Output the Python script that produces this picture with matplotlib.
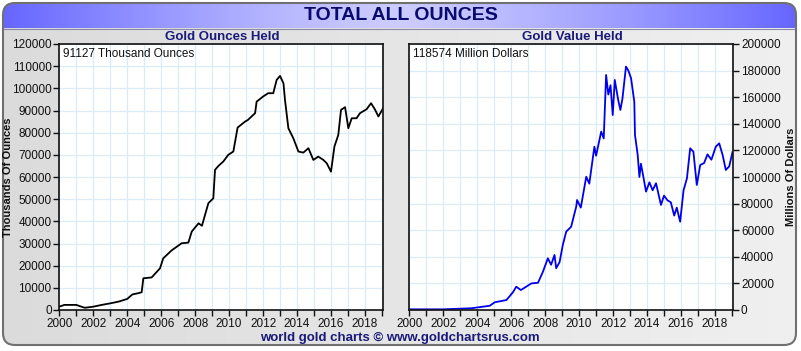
import numpy as np
import matplotlib
matplotlib.use("Agg")
import matplotlib.pyplot as plt
from matplotlib.patches import FancyBboxPatch, Rectangle
from matplotlib.ticker import MultipleLocator

plt.rcParams['font.family'] = ['Liberation Sans', 'DejaVu Sans']

# ---- data ----
oz_years = [2000.0, 2000.3, 2001.0, 2001.3, 2001.5, 2002.0, 2002.5, 2003.0, 2003.5,
            2004.0, 2004.3, 2004.6, 2004.85, 2004.95, 2005.44, 2005.93, 2006.12, 2006.6,
            2007.2, 2007.6, 2007.8, 2008.2, 2008.4, 2008.78, 2009.07, 2009.17, 2009.37,
            2009.66, 2009.95, 2010.25, 2010.5, 2010.94, 2011.1, 2011.53, 2011.62, 2012.0,
            2012.3, 2012.6, 2012.8, 2013.0, 2013.2, 2013.29, 2013.49, 2013.78, 2014.08,
            2014.37, 2014.67, 2014.96, 2015.25, 2015.55, 2015.75, 2016.0, 2016.2, 2016.43,
            2016.59, 2016.83, 2017.02, 2017.22, 2017.5, 2017.71, 2018.1, 2018.36, 2018.6,
            2018.79, 2019.08]
oz_values = [1500, 2300, 2300, 1500, 1000, 1500, 2300, 3000, 3800,
             5000, 7000, 7500, 8000, 14300, 14700, 18800, 23300, 26800,
             30100, 30400, 35400, 39100, 38000, 48200, 50400, 63200, 65000,
             67000, 70000, 71500, 82300, 85000, 85700, 88800, 94000, 96300,
             97800, 97800, 103800, 105600, 102300, 94800, 82000, 77500, 71500,
             71000, 73000, 67700, 69200, 67700, 66200, 62400, 73700, 79000,
             90300, 91500, 82000, 86500, 86500, 88800, 90600, 93300, 90300,
             87300, 91127]

usd_years = [2000.0, 2002.0, 2003.0, 2003.66, 2004.74, 2005.03, 2005.72, 2006.1, 2006.3,
             2006.57, 2007.19, 2007.58, 2007.87, 2008.16, 2008.35, 2008.55, 2008.65,
             2008.85, 2009.04, 2009.24, 2009.53, 2009.83, 2009.88, 2010.1, 2010.42, 2010.6,
             2010.9, 2011.0, 2011.3, 2011.45, 2011.59, 2011.72, 2011.85, 2011.98, 2012.1,
             2012.3, 2012.43, 2012.55, 2012.76, 2012.9, 2013.06, 2013.25, 2013.29, 2013.45,
             2013.55, 2013.64, 2013.8, 2013.94, 2014.14, 2014.33, 2014.53, 2014.82, 2015.0,
             2015.2, 2015.4, 2015.6, 2015.75, 2015.95, 2016.15, 2016.35, 2016.54, 2016.73,
             2016.93, 2017.13, 2017.36, 2017.56, 2017.79, 2018.05, 2018.25, 2018.45,
             2018.64, 2018.84, 2019.03]
usd_values = [500, 500, 1000, 1300, 3200, 5800, 7500, 13300, 17500,
              15000, 20000, 20500, 28800, 38900, 34000, 41400, 31400,
              36000, 48900, 58900, 62600, 77700, 82700, 77000, 100200, 95000,
              122800, 116000, 134100, 129000, 176700, 162000, 169000, 146600, 173000,
              158000, 150400, 158700, 183000, 180000, 174200, 156600, 131600, 116600,
              100000, 110000, 99000, 89000, 96000, 90000, 95300, 79000, 86000,
              82500, 81000, 71000, 77000, 66400, 90000, 99000, 121600, 119000,
              94000, 109000, 110500, 117000, 113000, 122800, 125300, 116600,
              105300, 108000, 118574]

title = "TOTAL ALL OUNCES"
left_title = "Gold Ounces Held"
right_title = "Gold Value Held"
left_note = "91127 Thousand Ounces"
right_note = "118574 Million Dollars"
left_ylabel = "Thousands Of Ounces"
right_ylabel = "Millions Of Dollars"
footer = "world gold charts \u00a9 www.goldchartsrus.com"
x_ticks = list(range(2000, 2019, 2))

W, H = 801, 351
fig = plt.figure(figsize=(W / 100, H / 100), dpi=100)
fig.patch.set_facecolor('white')

# ---- background ----
bg = fig.add_axes([0, 0, 1, 1])
bg.set_xlim(0, W)
bg.set_ylim(H, 0)
bg.axis('off')

panel = FancyBboxPatch((3, 3), W - 8, H - 9, boxstyle="round,pad=0,rounding_size=12",
                       facecolor='none', edgecolor='#707070', lw=1.5, zorder=3)
bg.add_patch(panel)
# gray gradient fill
grad = np.linspace(0, 1, 256)[None, :]
gray = np.dstack([0.86 + 0.08 * grad] * 3)
im = bg.imshow(gray, extent=(3, W - 5, H - 6, 3), aspect='auto', zorder=1)
im.set_clip_path(panel)
# blue banner gradient
t = np.linspace(-1, 1, 400)
g = np.abs(t) ** 1.3
r = 0.80 - 0.40 * g
gg = 0.80 - 0.40 * g
b = np.ones_like(t)
ban = np.dstack([r, gg, b])[0][None, :, :]
im2 = bg.imshow(ban, extent=(3, W - 5, 28, 3), aspect='auto', zorder=2)
im2.set_clip_path(panel)
bg.plot([3, W - 5], [28.5, 28.5], color='#8888aa', lw=0.8, zorder=2)

bg.text(W / 2, 16, title, ha='center', va='center', fontsize=14, fontweight='bold',
        color='#0a0a6e', zorder=4)
bg.text(222, 36.5, left_title, ha='center', va='center', fontsize=9.5, fontweight='bold',
        color='#1a1a7a', zorder=4)
bg.text(572, 36.5, right_title, ha='center', va='center', fontsize=9.5, fontweight='bold',
        color='#1a1a7a', zorder=4)
bg.text(400, 338, footer, ha='center', va='center', fontsize=9.5, fontweight='bold',
        color='#1a1a7a', zorder=4)
bg.text(8, 177, left_ylabel, ha='center', va='center', rotation=90, fontsize=8,
        fontweight='bold', color='#111111', zorder=4)
bg.text(791, 177, right_ylabel, ha='center', va='center', rotation=90, fontsize=8,
        fontweight='bold', color='#111111', zorder=4)


def style_axes(ax, ymax, ystep, side):
    ax.set_facecolor('white')
    ax.set_xlim(2000, 2019.08)
    ax.set_ylim(0, ymax)
    ax.set_xticks(x_ticks)
    ax.xaxis.set_minor_locator(MultipleLocator(1))
    ax.yaxis.set_major_locator(MultipleLocator(ystep))
    ax.grid(which='both', axis='x', color='#dcecf6', lw=0.9)
    ax.grid(which='major', axis='y', color='#dcecf6', lw=0.9)
    ax.set_axisbelow(True)
    ax.tick_params(which='both', direction='out', length=4, width=1, labelsize=8.5,
                   colors='#111111', pad=1.5)
    if side == 'right':
        ax.yaxis.tick_right()
        ax.yaxis.set_label_position('right')
    for s in ax.spines.values():
        s.set_color('#111111')
        s.set_linewidth(1.2)


axL = fig.add_axes([59.3 / W, (H - 310) / H, 324 / W, 266 / H], zorder=5)
style_axes(axL, 120000, 10000, 'left')
axL.plot(oz_years, oz_values, color='black', lw=1.3)
axL.text(0.012, 0.985, left_note, transform=axL.transAxes, ha='left', va='top',
         fontsize=8.5, color='#111111')

axR = fig.add_axes([409.3 / W, (H - 310) / H, 324 / W, 266 / H], zorder=5)
style_axes(axR, 200000, 20000, 'right')
axR.plot(usd_years, usd_values, color='#0000ee', lw=1.3)
axR.text(0.012, 0.985, right_note, transform=axR.transAxes, ha='left', va='top',
         fontsize=8.5, color='#111111')

fig.savefig('out.png', dpi=100, facecolor='white')
